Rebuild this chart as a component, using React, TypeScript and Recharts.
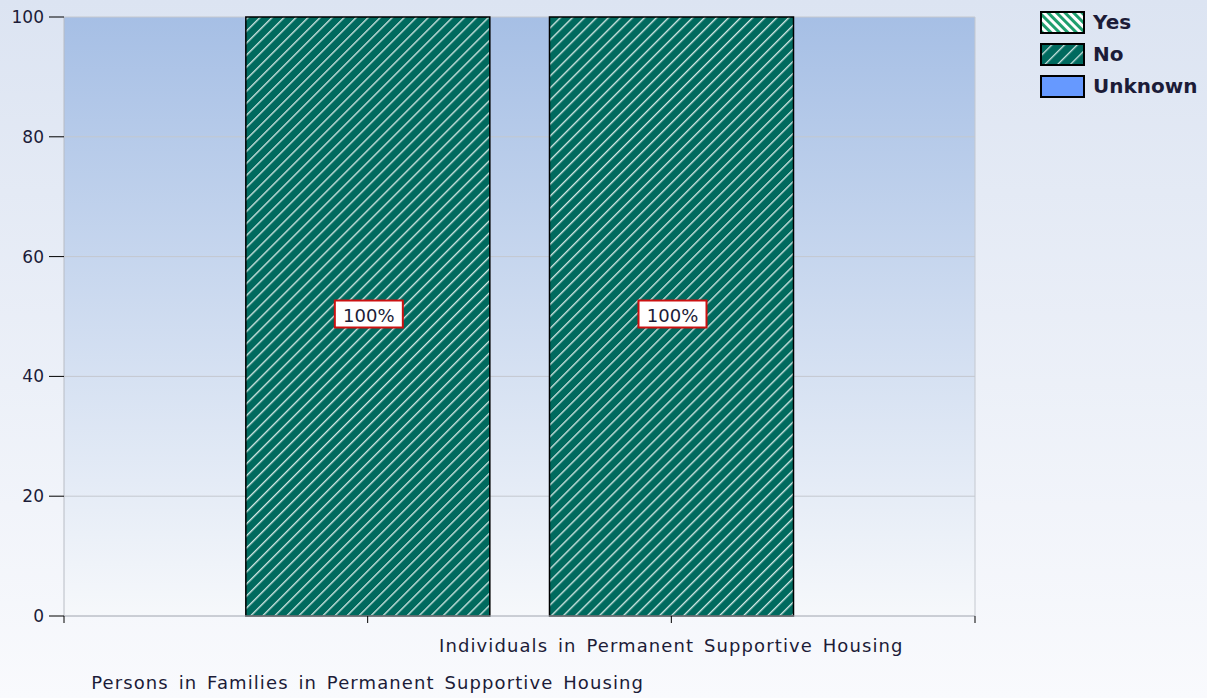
import { Bar, BarChart, CartesianGrid, LabelList, ReferenceLine, XAxis, YAxis } from 'recharts';

const categories = [
  'Persons in Families in Permanent Supportive Housing',
  'Individuals in Permanent Supportive Housing',
];
const xPositions = [1, 2];
const labelRows = [1, 0];
const yesValues = [0, 0];
const noValues = [100, 100];
const unknownValues = [0, 0];
const yTicks = [0, 20, 40, 60, 80, 100];
const xTicks = [0, 1, 2, 3];

const legendItems = [
  { name: 'Yes', fill: 'url(#legYes)' },
  { name: 'No', fill: 'url(#legNo)' },
  { name: 'Unknown', fill: '#6699ff' },
];

const data = categories.map((name, i) => ({
  x: xPositions[i],
  name,
  row: labelRows[i],
  yes: yesValues[i],
  no: noValues[i],
  unknown: unknownValues[i],
}));

const font = '"DejaVu Sans", Tahoma, sans-serif';

function CategoryTick(props: any) {
  const { x, y, payload } = props;
  const item = data.find((d) => d.x === payload.value);
  if (!item) return null;
  return (
    <text
      x={x}
      y={y}
      dy={item.row === 1 ? 64 : 27}
      textAnchor="middle"
      fontSize={18}
      fontFamily={font}
      letterSpacing={1.1}
      wordSpacing={3}
      fill="#1c1c38"
    >
      {item.name}
    </text>
  );
}

function PctLabel(props: any) {
  const { x, y, width, height, value } = props;
  if (!value) return null;
  const cx = x + width / 2;
  const cy = y + height / 2;
  return (
    <g>
      <rect x={cx - 33} y={cy - 16} width={68} height={27} fill="#fff" stroke="#cc1111" strokeWidth={2} />
      <text x={cx + 1} y={cy + 5} textAnchor="middle" fontSize={18} fontFamily={font} fill="#1c1c38">
        {value}%
      </text>
    </g>
  );
}

function Legend() {
  return (
    <div style={{ position: 'absolute', left: 1040, top: 6, fontFamily: font }}>
      <svg width={0} height={0} style={{ position: 'absolute' }}>
        <defs>
          <pattern id="legYes" patternUnits="userSpaceOnUse" width="6" height="6" patternTransform="rotate(-45)">
            <rect width="6" height="6" fill="#1f9e6e" />
            <rect width="3" height="6" fill="#ffffff" />
          </pattern>
          <pattern id="legNo" patternUnits="userSpaceOnUse" width="9" height="9" patternTransform="rotate(45)">
            <rect width="9" height="9" fill="#006a5e" />
            <rect width="1.3" height="9" fill="#cfe6e2" />
          </pattern>
        </defs>
      </svg>
      {legendItems.map((it) => (
        <div key={it.name} style={{ display: 'flex', alignItems: 'center', height: 32 }}>
          <svg width={46} height={23}>
            <rect x={1} y={1} width={43} height={21} fill={it.fill} stroke="#000" strokeWidth={2} />
          </svg>
          <span style={{ marginLeft: 7, fontSize: 20, fontWeight: 'bold', color: '#1c1c38' }}>{it.name}</span>
        </div>
      ))}
    </div>
  );
}

export default function App() {
  return (
    <div
      style={{
        position: 'fixed',
        left: 0,
        top: 0,
        width: 1207,
        height: 698,
        background: 'linear-gradient(to bottom, #dce4f2 0%, #f9fafd 100%)',
      }}
    >
      <BarChart
        width={1207}
        height={698}
        data={data}
        margin={{ top: 17, right: 232, bottom: 22, left: 0 }}
        barSize={244}
      >
        <defs>
          <linearGradient id="plotGrad" x1="0" y1="0" x2="0" y2="1">
            <stop offset="0%" stopColor="#a6bfe5" />
            <stop offset="100%" stopColor="#f6f8fb" />
          </linearGradient>
          <pattern id="hatchNo" patternUnits="userSpaceOnUse" width="8.5" height="8.5" patternTransform="rotate(45)">
            <rect width="8.5" height="8.5" fill="#006a5e" />
            <rect width="1.4" height="8.5" fill="#cfe6e2" />
          </pattern>
          <pattern id="hatchYes" patternUnits="userSpaceOnUse" width="6" height="6" patternTransform="rotate(-45)">
            <rect width="6" height="6" fill="#1f9e6e" />
            <rect width="3" height="6" fill="#ffffff" />
          </pattern>
        </defs>
        <CartesianGrid fill="url(#plotGrad)" stroke="#c4c8cf" vertical={false} />
        <XAxis
          dataKey="x"
          type="number"
          domain={[0, 3]}
          ticks={xTicks}
          interval={0}
          height={60}
          tickSize={7}
          tickMargin={2}
          axisLine={{ stroke: '#b8bcc4' }}
          tickLine={{ stroke: '#000' }}
          tick={<CategoryTick />}
        />
        <YAxis
          type="number"
          domain={[0, 100]}
          ticks={yTicks}
          width={64}
          tickSize={15}
          tickMargin={5}
          axisLine={{ stroke: '#b8bcc4' }}
          tickLine={{ stroke: '#000' }}
          tick={{ fontSize: 17, fontFamily: font, fill: '#1c1c38' }}
        />
        <ReferenceLine x={3} stroke="#c4c8cf" />
        <Bar dataKey="yes" stackId="s" fill="url(#hatchYes)" stroke="#000" strokeWidth={1.5} isAnimationActive={false} />
        <Bar dataKey="no" stackId="s" fill="url(#hatchNo)" stroke="#000" strokeWidth={1.5} isAnimationActive={false}>
          <LabelList dataKey="no" content={<PctLabel />} />
        </Bar>
        <Bar dataKey="unknown" stackId="s" fill="#6699ff" stroke="#000" strokeWidth={1.5} isAnimationActive={false} />
      </BarChart>
      <Legend />
    </div>
  );
}
